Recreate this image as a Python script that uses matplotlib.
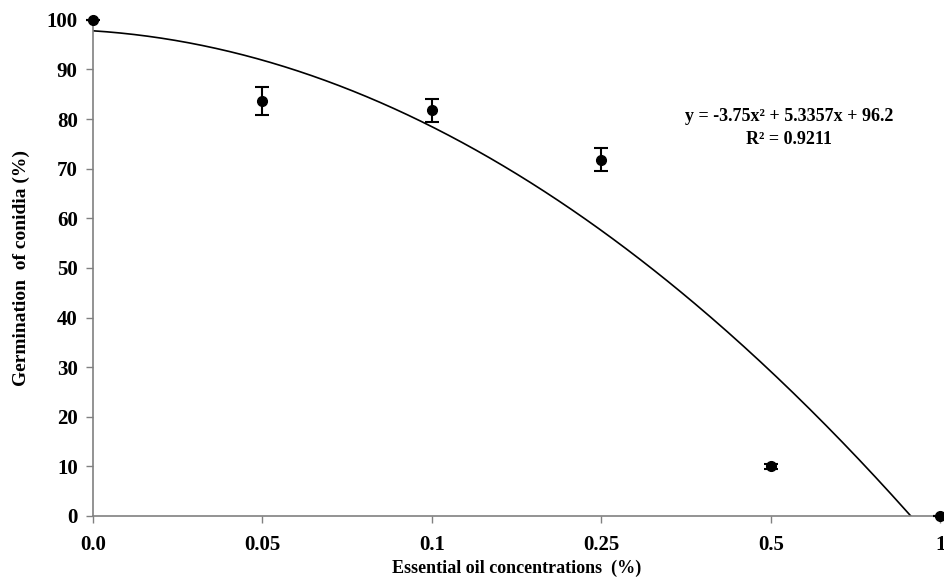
import numpy as np
import matplotlib
matplotlib.use('Agg')
import matplotlib.pyplot as plt

# data
concentrations = ['0.0', '0.05', '0.1', '0.25', '0.5', '1']
germination = [100, 83.7, 81.8, 71.8, 10, 0]
errors = [0, 2.8, 2.3, 2.3, 0.5, 0]
# trendline coefficients (x = category index 1..6)
coef = [-3.75, 5.3357, 96.2]
r2 = 0.9211

plt.rcParams['font.family'] = 'Liberation Serif'
plt.rcParams['font.weight'] = 'bold'

fig = plt.figure(figsize=(9.44, 5.83), dpi=100)
ax = fig.add_axes([0.0985, 0.115, 0.8975, 0.851])

xs = np.arange(1, len(concentrations) + 1)

# trendline, drawn until it reaches zero
root = max(np.roots(coef).real)
xc = np.linspace(1, root, 300)
ax.plot(xc, np.polyval(coef, xc), color='black', lw=1.2, zorder=2)

ax.errorbar(xs, germination, yerr=errors, fmt='o', color='black', ms=7,
            capsize=5, elinewidth=1.5, capthick=1.5, clip_on=False, zorder=3)

ax.text(5.11, 78.2, f'y = -3.75x² + 5.3357x + 96.2\nR² = {r2}',
        ha='center', va='center', fontsize=13, fontweight='bold', linespacing=1.4)

ax.set_xlim(1, 6)
ax.set_ylim(0, 100)
ax.set_xticks(xs)
ax.set_xticklabels(concentrations)
ax.set_yticks(np.arange(0, 101, 10))
ax.tick_params(labelsize=15, length=5, color='#808080', width=1)
ax.tick_params(axis='x', pad=9)
ax.tick_params(axis='y', pad=6)
for s in ['top', 'right']:
    ax.spines[s].set_visible(False)
for s in ['left', 'bottom']:
    ax.spines[s].set_color('#808080')
    ax.spines[s].set_linewidth(1.2)

ax.set_xlabel('Essential oil concentrations  (%)', fontsize=13, fontweight='bold', labelpad=3)
ax.set_ylabel('Germination  of conidia (%)', fontsize=14, fontweight='bold', labelpad=12)

fig.savefig('out.png', dpi=100)
